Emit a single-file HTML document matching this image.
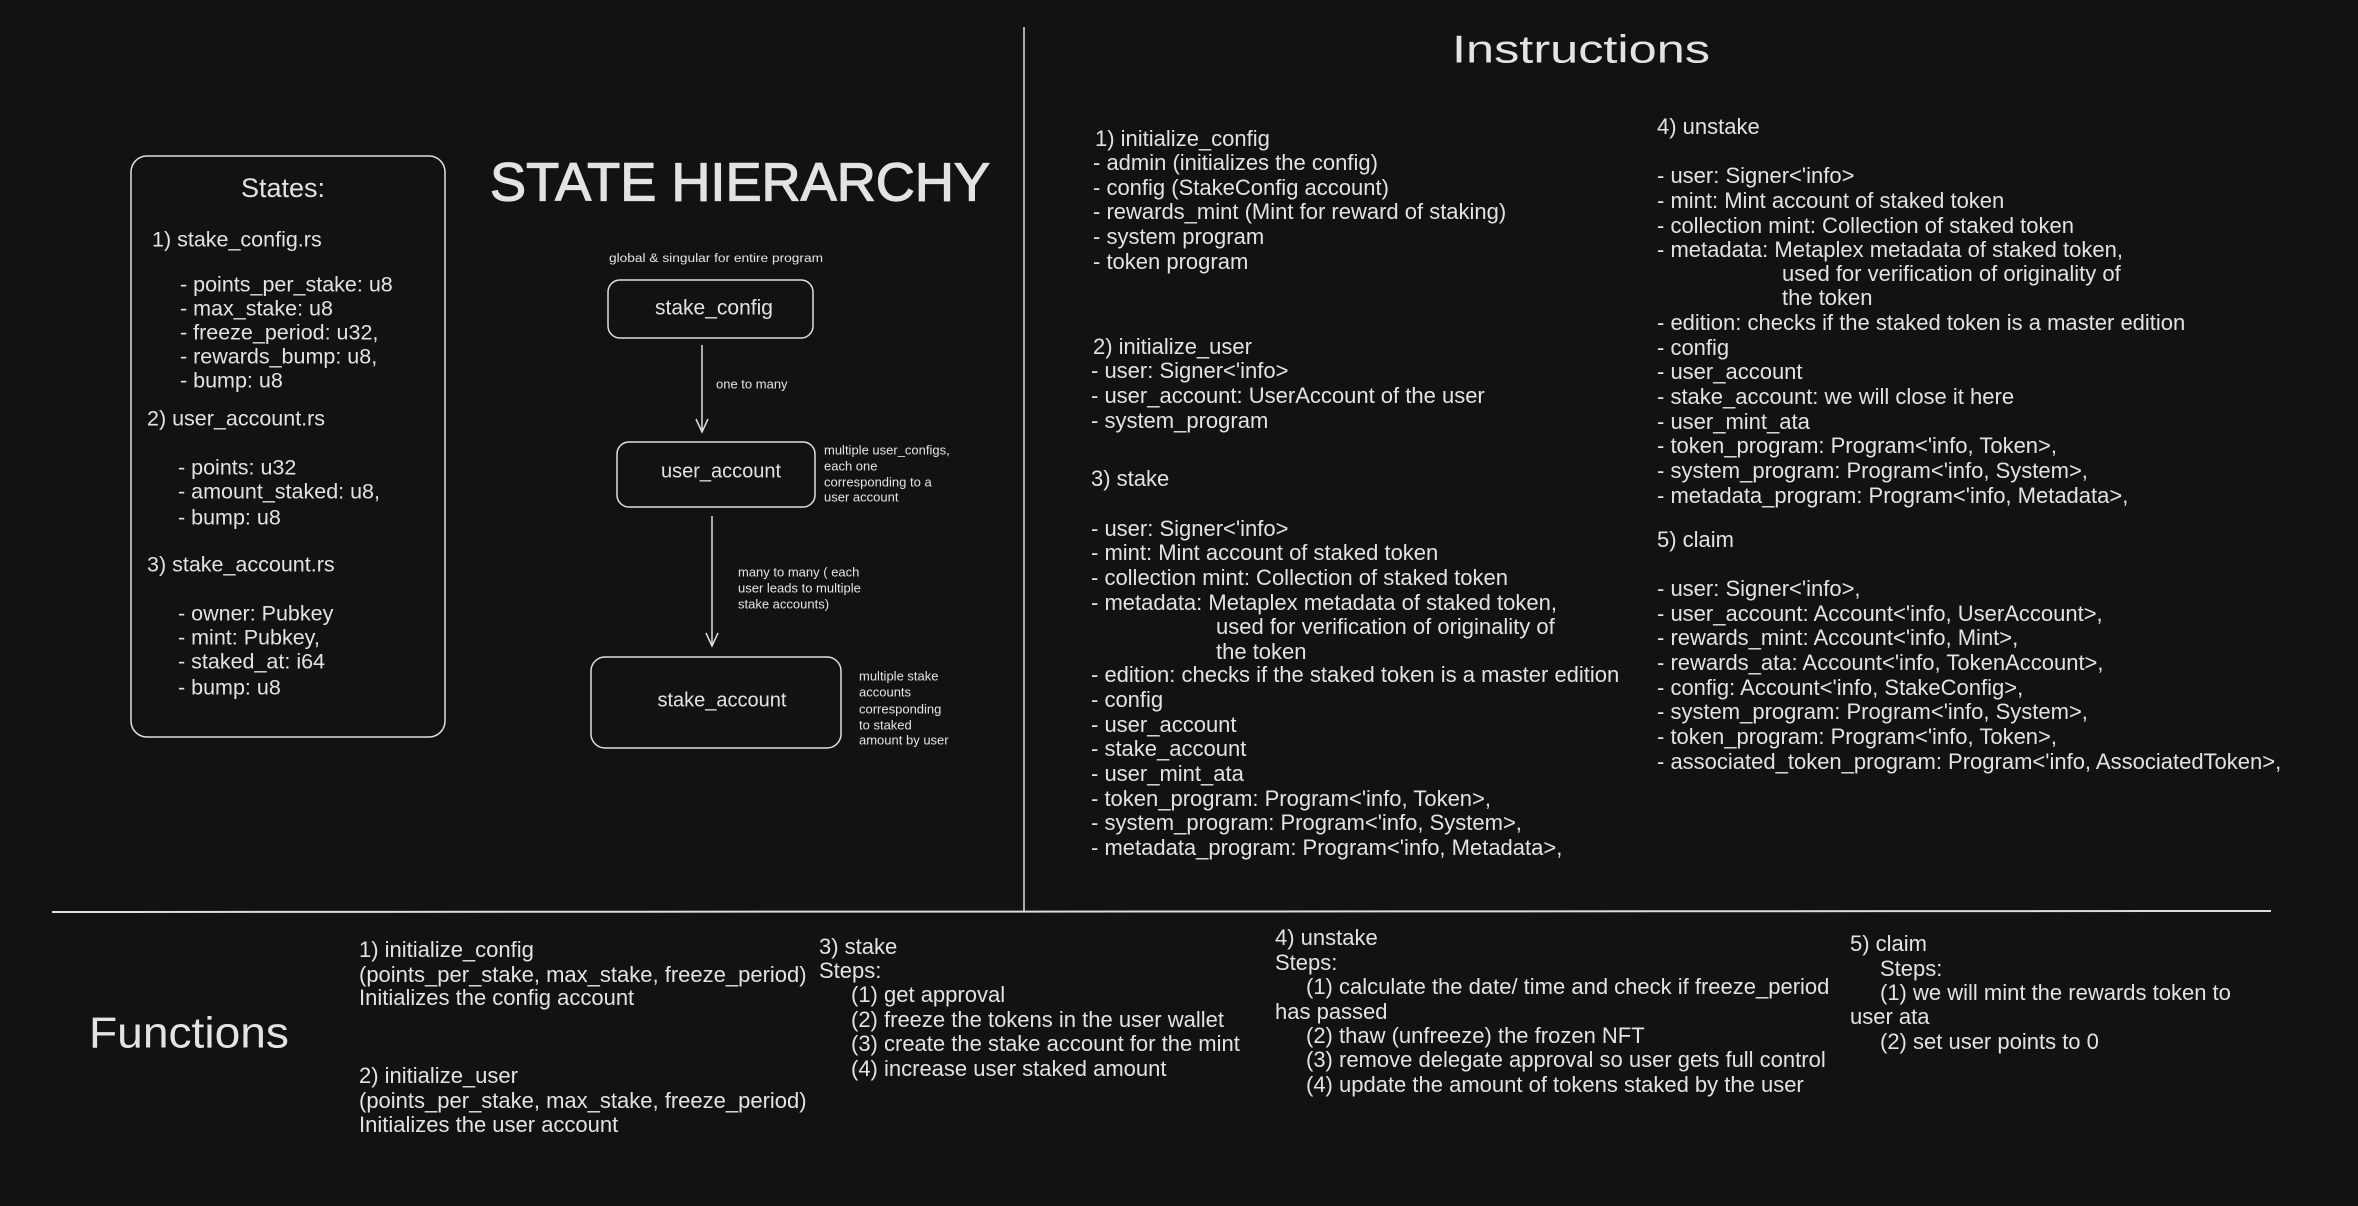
<!DOCTYPE html>
<html><head><meta charset="utf-8"><style>
html,body{margin:0;padding:0;background:#121212;}
svg{display:block}
text{font-family:"Liberation Sans",sans-serif;fill:#e3e3e3;dominant-baseline:middle;}
.b{font-size:22px}
.st{font-size:21.5px}
.f{font-size:22px}
.s{font-size:13px}
</style></head><body>
<svg width="2358" height="1206" viewBox="0 0 2358 1206" xmlns="http://www.w3.org/2000/svg">
<rect width="2358" height="1206" fill="#121212"/>
<line x1="1024" y1="27" x2="1024" y2="911" stroke="#dcdcdc" stroke-width="1.5"/>
<line x1="52" y1="912" x2="2271" y2="911" stroke="#dcdcdc" stroke-width="2"/>

<rect x="131" y="156" width="314" height="581" rx="16" fill="none" stroke="#e0e0e0" stroke-width="1.5"/>
<text x="283" y="190" font-size="27" text-anchor="middle">States:</text>
<text class="st" x="152" y="241">1) stake_config.rs</text>
<text class="st" x="180" y="286">- points_per_stake: u8</text>
<text class="st" x="180" y="310">- max_stake: u8</text>
<text class="st" x="180" y="334">- freeze_period: u32,</text>
<text class="st" x="180" y="358">- rewards_bump: u8,</text>
<text class="st" x="180" y="382">- bump: u8</text>
<text class="st" x="147" y="420">2) user_account.rs</text>
<text class="st" x="178" y="469">- points: u32</text>
<text class="st" x="178" y="493">- amount_staked: u8,</text>
<text class="st" x="178" y="519">- bump: u8</text>
<text class="st" x="147" y="566">3) stake_account.rs</text>
<text class="st" x="178" y="615">- owner: Pubkey</text>
<text class="st" x="178" y="639">- mint: Pubkey,</text>
<text class="st" x="178" y="663">- staked_at: i64</text>
<text class="st" x="178" y="689">- bump: u8</text>

<text x="490" y="186" font-size="54" textLength="500" lengthAdjust="spacingAndGlyphs" stroke="#e3e3e3" stroke-width="1.2">STATE HIERARCHY</text>
<text x="609" y="259" style="font-size:11.5px" textLength="214" lengthAdjust="spacingAndGlyphs">global &amp; singular for entire program</text>
<rect x="608" y="280" width="205" height="58" rx="12" fill="none" stroke="#e0e0e0" stroke-width="1.5"/>
<text x="714" y="309" font-size="21" text-anchor="middle">stake_config</text>
<line x1="702" y1="345" x2="702" y2="432" stroke="#e0e0e0" stroke-width="1.5"/>
<polyline points="696,419 702,432 708,419" fill="none" stroke="#e0e0e0" stroke-width="1.5"/>
<text x="716" y="385" class="s">one to many</text>

<rect x="617" y="442" width="198" height="65" rx="12" fill="none" stroke="#e0e0e0" stroke-width="1.5"/>
<text x="721" y="472" font-size="20" text-anchor="middle">user_account</text>
<text x="824" y="451" class="s">multiple user_configs,</text>
<text x="824" y="467" class="s">each one</text>
<text x="824" y="483" class="s">corresponding to a</text>
<text x="824" y="498" class="s">user account</text>
<line x1="712" y1="516" x2="712" y2="646" stroke="#e0e0e0" stroke-width="1.5"/>
<polyline points="706,633 712,646 718,633" fill="none" stroke="#e0e0e0" stroke-width="1.5"/>
<text x="738" y="573" class="s">many to many ( each</text>
<text x="738" y="589" class="s">user leads to multiple</text>
<text x="738" y="605" class="s">stake accounts)</text>

<rect x="591" y="657" width="250" height="91" rx="14" fill="none" stroke="#e0e0e0" stroke-width="1.5"/>
<text x="722" y="701" font-size="20" text-anchor="middle">stake_account</text>
<text x="859" y="677" class="s">multiple stake</text>
<text x="859" y="693" class="s">accounts</text>
<text x="859" y="710" class="s">corresponding</text>
<text x="859" y="726" class="s">to staked</text>
<text x="859" y="741" class="s">amount by user</text>

<text x="1452" y="52" font-size="39" textLength="258" lengthAdjust="spacingAndGlyphs">Instructions</text>
<text class="b" x="1095" y="140">1) initialize_config</text>
<text class="b" x="1093" y="164">- admin (initializes the config)</text>
<text class="b" x="1093" y="189">- config (StakeConfig account)</text>
<text class="b" x="1093" y="213">- rewards_mint (Mint for reward of staking)</text>
<text class="b" x="1093" y="238">- system program</text>
<text class="b" x="1093" y="263">- token program</text>
<text class="b" x="1093" y="348">2) initialize_user</text>
<text class="b" x="1091" y="372">- user: Signer&lt;'info&gt;</text>
<text class="b" x="1091" y="397">- user_account: UserAccount of the user</text>
<text class="b" x="1091" y="422">- system_program</text>
<text class="b" x="1091" y="480">3) stake</text>
<text class="b" x="1091" y="530">- user: Signer&lt;'info&gt;</text>
<text class="b" x="1091" y="554">- mint: Mint account of staked token</text>
<text class="b" x="1091" y="579">- collection mint: Collection of staked token</text>
<text class="b" x="1091" y="604">- metadata: Metaplex metadata of staked token,</text>
<text class="b" x="1216" y="628">used for verification of originality of</text>
<text class="b" x="1216" y="653">the token</text>
<text class="b" x="1091" y="676">- edition: checks if the staked token is a master edition</text>
<text class="b" x="1091" y="701">- config</text>
<text class="b" x="1091" y="726">- user_account</text>
<text class="b" x="1091" y="750">- stake_account</text>
<text class="b" x="1091" y="775">- user_mint_ata</text>
<text class="b" x="1091" y="800">- token_program: Program&lt;'info, Token&gt;,</text>
<text class="b" x="1091" y="824">- system_program: Program&lt;'info, System&gt;,</text>
<text class="b" x="1091" y="849">- metadata_program: Program&lt;'info, Metadata&gt;,</text>

<text class="b" x="1657" y="128">4) unstake</text>
<text class="b" x="1657" y="177">- user: Signer&lt;'info&gt;</text>
<text class="b" x="1657" y="202">- mint: Mint account of staked token</text>
<text class="b" x="1657" y="227">- collection mint: Collection of staked token</text>
<text class="b" x="1657" y="251">- metadata: Metaplex metadata of staked token,</text>
<text class="b" x="1782" y="275">used for verification of originality of</text>
<text class="b" x="1782" y="299">the token</text>
<text class="b" x="1657" y="324">- edition: checks if the staked token is a master edition</text>
<text class="b" x="1657" y="349">- config</text>
<text class="b" x="1657" y="373">- user_account</text>
<text class="b" x="1657" y="398">- stake_account: we will close it here</text>
<text class="b" x="1657" y="423">- user_mint_ata</text>
<text class="b" x="1657" y="447">- token_program: Program&lt;'info, Token&gt;,</text>
<text class="b" x="1657" y="472">- system_program: Program&lt;'info, System&gt;,</text>
<text class="b" x="1657" y="497">- metadata_program: Program&lt;'info, Metadata&gt;,</text>
<text class="b" x="1657" y="541">5) claim</text>
<text class="b" x="1657" y="590">- user: Signer&lt;'info&gt;,</text>
<text class="b" x="1657" y="615">- user_account: Account&lt;'info, UserAccount&gt;,</text>
<text class="b" x="1657" y="639">- rewards_mint: Account&lt;'info, Mint&gt;,</text>
<text class="b" x="1657" y="664">- rewards_ata: Account&lt;'info, TokenAccount&gt;,</text>
<text class="b" x="1657" y="689">- config: Account&lt;'info, StakeConfig&gt;,</text>
<text class="b" x="1657" y="713">- system_program: Program&lt;'info, System&gt;,</text>
<text class="b" x="1657" y="738">- token_program: Program&lt;'info, Token&gt;,</text>
<text class="b" x="1657" y="763">- associated_token_program: Program&lt;'info, AssociatedToken&gt;,</text>

<text x="89" y="1036" font-size="44" textLength="200" lengthAdjust="spacingAndGlyphs">Functions</text>
<text class="f" x="359" y="951">1) initialize_config</text>
<text class="f" x="359" y="976">(points_per_stake, max_stake, freeze_period)</text>
<text class="f" x="359" y="999">Initializes the config account</text>
<text class="f" x="359" y="1077">2) initialize_user</text>
<text class="f" x="359" y="1102">(points_per_stake, max_stake, freeze_period)</text>
<text class="f" x="359" y="1126">Initializes the user account</text>

<text class="f" x="819" y="948">3) stake</text>
<text class="f" x="819" y="972">Steps:</text>
<text class="f" x="851" y="996">(1) get approval</text>
<text class="f" x="851" y="1021">(2) freeze the tokens in the user wallet</text>
<text class="f" x="851" y="1045">(3) create the stake account for the mint</text>
<text class="f" x="851" y="1070">(4) increase user staked amount</text>

<text class="f" x="1275" y="939">4) unstake</text>
<text class="f" x="1275" y="964">Steps:</text>
<text class="f" x="1306" y="988">(1) calculate the date/ time and check if freeze_period</text>
<text class="f" x="1275" y="1013">has passed</text>
<text class="f" x="1306" y="1037">(2) thaw (unfreeze) the frozen NFT</text>
<text class="f" x="1306" y="1061">(3) remove delegate approval so user gets full control</text>
<text class="f" x="1306" y="1086">(4) update the amount of tokens staked by the user</text>

<text class="f" x="1850" y="945">5) claim</text>
<text class="f" x="1880" y="970">Steps:</text>
<text class="f" x="1880" y="994">(1) we will mint the rewards token to</text>
<text class="f" x="1850" y="1018">user ata</text>
<text class="f" x="1880" y="1043">(2) set user points to 0</text>
</svg>
</body></html>
